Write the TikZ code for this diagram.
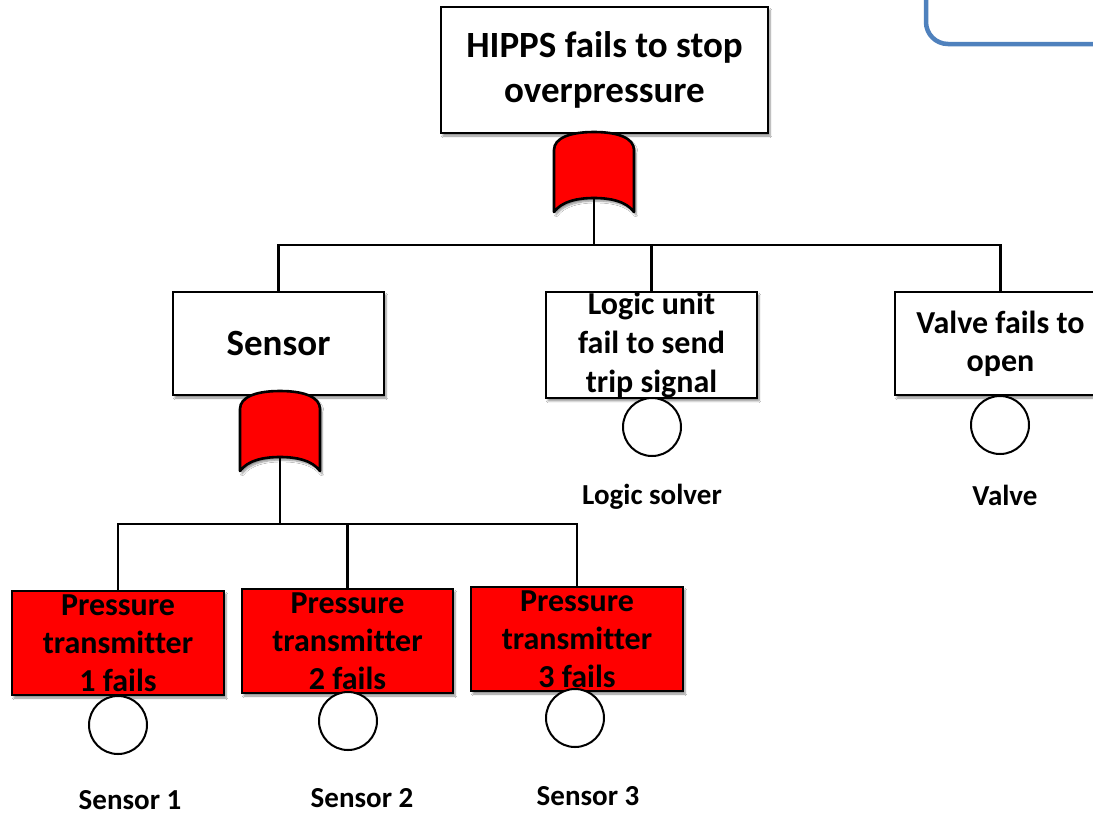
\documentclass[tikz,border=0pt]{standalone}
\usepackage{fontspec}
\setmainfont{Carlito}[Ligatures=NoCommon]
\usetikzlibrary{shadows.blur}
\definecolor{gatered}{RGB}{255,0,0}
\definecolor{frameblue}{RGB}{79,129,189}
\tikzset{
  shad/.style={blur shadow={shadow xshift=2pt, shadow yshift=-3pt, shadow blur steps=6, shadow opacity=45}},
  evbox/.style={draw=black, line width=2.4pt, fill=white, inner sep=0pt, align=center, font=\bfseries, shad},
  redbox/.style={evbox, fill=gatered},
  basic/.style={circle, draw=black, line width=2pt, fill=white, minimum size=58pt, inner sep=0pt},
  lab/.style={font=\fontsize{29}{34}\selectfont\bfseries, inner sep=0pt},
  conn/.style={line width=2.3pt, draw=black},
  orgate/.pic={
    \path[fill=gatered, draw=black, line width=2.6pt, line join=round, shad]
      (-40,80) -- (-40,18) .. controls (-40,6) and (-24,0) .. (0,0)
      .. controls (24,0) and (40,6) .. (40,18) -- (40,80)
      .. controls (32,69) and (16,66) .. (0,66)
      .. controls (-16,66) and (-32,69) .. (-40,80) -- cycle;
    \coordinate (-out) at (0,66);
  }
}
\begin{document}
\begin{tikzpicture}[x=1pt, y=-1pt]
\useasboundingbox (0,0) rectangle (1093,815);
\fill[white] (0,0) rectangle (1093,815);

% partially visible framed box, top right
\draw[frameblue, line width=4.5pt, rounded corners=22pt] (926,-60) -- (926,44) -- (1130,44) -- (1130,-60);

% top event
\node[evbox, minimum width=327pt, minimum height=126pt, font=\fontsize{37}{45}\selectfont\bfseries] (top) at (604.5,70) {HIPPS fails to stop\\overpressure};

% intermediate events
\node[evbox, minimum width=211pt, minimum height=103pt, font=\fontsize{37}{38}\selectfont\bfseries] (sensor) at (278.5,343.5) {Sensor};
\node[evbox, minimum width=211pt, minimum height=104pt, font=\fontsize{32}{39}\selectfont\bfseries] (logic) at (651.5,345) {Logic unit\\fail to send\\trip signal};
\node[evbox, minimum width=211pt, minimum height=103pt, font=\fontsize{32}{38}\selectfont\bfseries] (valve) at (1000.5,343.5) {Valve fails to\\open};

% sensor events
\node[redbox, minimum width=212pt, minimum height=104pt, font=\fontsize{32}{38}\selectfont\bfseries] (pt1) at (118,643) {Pressure\\transmitter\\1 fails};
\node[redbox, minimum width=211pt, minimum height=104pt, font=\fontsize{32}{38}\selectfont\bfseries] (pt2) at (347.5,641) {Pressure\\transmitter\\2 fails};
\node[redbox, minimum width=212pt, minimum height=104pt, font=\fontsize{32}{38}\selectfont\bfseries] (pt3) at (577,639) {Pressure\\transmitter\\3 fails};

% gates
\pic (g1) at (594,132) {orgate};
\pic (g2) at (280,391) {orgate};

% connectors
\coordinate (j1) at (594,245);
\coordinate (j2) at (280,524);
\draw[conn] (g1-out) -- (j1);
\draw[conn] (j1) -| (sensor.north);
\draw[conn] (j1) -| (logic.north);
\draw[conn] (j1) -| (valve.north);
\draw[conn] (g2-out) -- (j2);
\draw[conn] (j2) -| (pt1.north);
\draw[conn] (j2) -| (pt2.north);
\draw[conn] (j2) -| (pt3.north);

% basic events
\node[basic] (c1) at (118,725) {};
\node[basic] (c2) at (348,721) {};
\node[basic] (c3) at (575,718) {};
\node[basic] (cl) at (652,427) {};
\node[basic] (cv) at (1000,425) {};

% labels
\node[lab] (l1) at (130,800) {Sensor 1};
\node[lab] (l2) at (362,798) {Sensor 2};
\node[lab] (l3) at (588,796) {Sensor 3};
\node[lab] (ll) at (652,497) {Logic solver};
\node[lab] (lv) at (1005,495) {Valve};
\end{tikzpicture}
\end{document}
